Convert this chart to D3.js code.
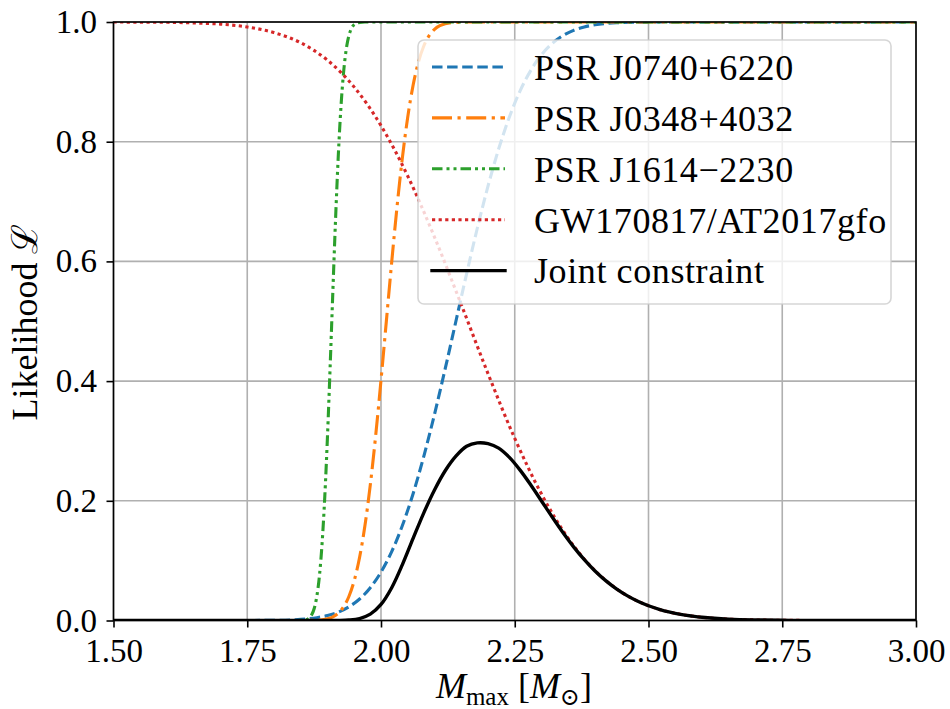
<!DOCTYPE html>
<html>
<head>
<meta charset="utf-8">
<script src="https://cdn.jsdelivr.net/npm/d3@7/dist/d3.min.js"></script>
<style>
  html, body { margin: 0; padding: 0; background: #fff; }
  svg { display: block; }
  text { fill: #000; }
</style>
</head>
<body>
<svg id="chart" width="950" height="709"></svg>
<script>
// ---------------- data ----------------
const xTicks = [1.50, 1.75, 2.00, 2.25, 2.50, 2.75, 3.00];
const xTickLabels = ["1.50", "1.75", "2.00", "2.25", "2.50", "2.75", "3.00"];
const yTicks = [0.0, 0.2, 0.4, 0.6, 0.8, 1.0];
const yTickLabels = ["0.0", "0.2", "0.4", "0.6", "0.8", "1.0"];

const seriesNames = ["PSR J0740+6220", "PSR J0348+4032", "PSR J1614\u22122230", "GW170817/AT2017gfo", "Joint constraint"];

// PSR J0740+6220
const j0740X = [1.50, 1.76, 1.80, 1.84, 1.86, 1.88, 1.90, 1.92, 1.94, 1.96, 1.98, 2.00, 2.02, 2.04, 2.06, 2.08, 2.10, 2.12, 2.14, 2.16, 2.18, 2.20, 2.22, 2.24, 2.26, 2.28, 2.30, 2.32, 2.34, 2.36, 2.38, 2.40, 2.44, 2.48, 2.55, 3.00];
const j0740Y = [0, 0.0001, 0.0003, 0.0013, 0.0026, 0.0047, 0.0082, 0.0139, 0.0228, 0.0359, 0.0548, 0.0808, 0.1151, 0.1587, 0.2119, 0.2743, 0.3446, 0.4207, 0.5, 0.5793, 0.6554, 0.7257, 0.7881, 0.8413, 0.8849, 0.9192, 0.9452, 0.9641, 0.9772, 0.9861, 0.9918, 0.9953, 0.9987, 0.9997, 1, 1];

// PSR J0348+4032
const j0348X = [1.50, 1.85, 1.88, 1.89, 1.90, 1.91, 1.92, 1.93, 1.94, 1.95, 1.96, 1.97, 1.98, 1.99, 2.00, 2.01, 2.02, 2.03, 2.04, 2.05, 2.06, 2.07, 2.08, 2.09, 2.10, 2.11, 2.12, 2.14, 2.16, 2.20, 3.00];
const j0348Y = [0, 0, 0.0006, 0.0013, 0.0030, 0.0062, 0.0122, 0.0228, 0.0401, 0.0668, 0.1056, 0.1587, 0.2266, 0.3085, 0.4013, 0.5, 0.5987, 0.6915, 0.7734, 0.8413, 0.8944, 0.9332, 0.9599, 0.9772, 0.9878, 0.9938, 0.9970, 0.9994, 0.9999, 1, 1];

// PSR J1614-2230
const j1614X = [1.50, 1.84, 1.86, 1.865, 1.87, 1.875, 1.88, 1.885, 1.89, 1.895, 1.90, 1.905, 1.91, 1.915, 1.92, 1.925, 1.93, 1.935, 1.94, 1.945, 1.95, 1.96, 1.97, 2.00, 3.00];
const j1614Y = [0, 0, 0.0013, 0.0036, 0.0088, 0.0196, 0.0401, 0.0753, 0.1303, 0.2083, 0.3085, 0.4256, 0.5497, 0.6691, 0.7734, 0.8560, 0.9154, 0.9543, 0.9772, 0.9896, 0.9957, 0.9994, 1, 1, 1];

// GW170817/AT2017gfo
const gwX = [1.50, 1.55, 1.60, 1.65, 1.70, 1.75, 1.80, 1.85, 1.90, 1.95, 2.00, 2.05, 2.10, 2.15, 2.20, 2.25, 2.30, 2.35, 2.40, 2.45, 2.50, 2.55, 2.60, 2.65, 2.70, 2.75, 2.80, 2.90, 3.00];
const gwY = [0.9999, 0.9998, 0.9995, 0.9985, 0.9964, 0.9917, 0.9823, 0.9652, 0.9361, 0.8912, 0.8269, 0.7425, 0.6406, 0.5279, 0.4125, 0.3043, 0.2112, 0.1372, 0.0832, 0.0471, 0.0247, 0.0120, 0.0054, 0.0023, 0.0009, 0.0003, 0.0001, 0, 0];

// Joint constraint
const jointX = [1.50, 1.86, 1.90, 1.92, 1.94, 1.96, 1.98, 2.00, 2.02, 2.04, 2.06, 2.08, 2.10, 2.12, 2.14, 2.16, 2.18, 2.20, 2.22, 2.24, 2.26, 2.28, 2.30, 2.32, 2.34, 2.36, 2.38, 2.40, 2.42, 2.44, 2.46, 2.48, 2.50, 2.52, 2.54, 2.56, 2.58, 2.60, 2.65, 2.70, 2.75, 2.80, 2.90, 3.00];
const jointY = [0, 0, 0, 0.0001, 0.0008, 0.0033, 0.0106, 0.0268, 0.0548, 0.0934, 0.1371, 0.1799, 0.2181, 0.2502, 0.2745, 0.2910, 0.2968, 0.2955, 0.2880, 0.2725, 0.2512, 0.2264, 0.1997, 0.1728, 0.1470, 0.1231, 0.1017, 0.0828, 0.0666, 0.0529, 0.0416, 0.0322, 0.0247, 0.0187, 0.0140, 0.0103, 0.0076, 0.0054, 0.0023, 0.0009, 0.0003, 0.0001, 0, 0];

// ---------------- drawing ----------------
const FONT = "'Liberation Serif', 'DejaVu Serif', serif";
const svg = d3.select("#chart");
const pLeft = 113.5, pRight = 916, pTop = 22, pBottom = 620.5;

const x = d3.scaleLinear().domain([1.5, 3.0]).range([pLeft, pRight]);
const y = d3.scaleLinear().domain([0, 1]).range([pBottom, pTop]);

const styles = [
  { color: "#1f77b4", dash: "10.5,4.6", width: 3.1, cap: "butt", curve: d3.curveMonotoneX },
  { color: "#ff7f0e", dash: "20,5.5,3.2,5.5", width: 3.1, cap: "butt", curve: d3.curveMonotoneX },
  { color: "#2ca02c", dash: "10.5,4,3,4,3,4", width: 3.1, cap: "butt", curve: d3.curveMonotoneX },
  { color: "#d62728", dash: "3.2,3.4", width: 3.1, cap: "butt", curve: d3.curveMonotoneX },
  { color: "#000000", dash: null, width: 3.4, cap: "square", curve: d3.curveCatmullRom.alpha(0.5) }
];

const seriesData = [
  d3.zip(j0740X, j0740Y),
  d3.zip(j0348X, j0348Y),
  d3.zip(j1614X, j1614Y),
  d3.zip(gwX, gwY),
  d3.zip(jointX, jointY)
];

// clip
svg.append("defs").append("clipPath").attr("id", "plotclip")
  .append("rect").attr("x", pLeft).attr("y", pTop)
  .attr("width", pRight - pLeft).attr("height", pBottom - pTop);

// grid
const grid = svg.append("g");
grid.selectAll("line.gx").data(xTicks).join("line").attr("class", "gx")
  .attr("x1", d => x(d)).attr("x2", d => x(d))
  .attr("y1", pTop).attr("y2", pBottom)
  .attr("stroke", "#b0b0b0").attr("stroke-width", 1.6);
grid.selectAll("line.gy").data(yTicks).join("line").attr("class", "gy")
  .attr("y1", d => y(d)).attr("y2", d => y(d))
  .attr("x1", pLeft).attr("x2", pRight)
  .attr("stroke", "#b0b0b0").attr("stroke-width", 1.6);

// curves
const curves = svg.append("g").attr("clip-path", "url(#plotclip)");
seriesData.forEach((data, i) => {
  const s = styles[i];
  const line = d3.line().x(d => x(d[0])).y(d => y(Math.max(0, d[1]))).curve(s.curve);
  curves.append("path")
    .datum(data)
    .attr("d", line)
    .attr("fill", "none")
    .attr("stroke", s.color)
    .attr("stroke-width", s.width)
    .attr("stroke-dasharray", s.dash)
    .attr("stroke-linejoin", "round");
});

// axes
const xAxis = d3.axisBottom(x).tickValues(xTicks).tickFormat((d, i) => xTickLabels[i])
  .tickSize(7).tickPadding(11).tickSizeOuter(0);
const yAxis = d3.axisLeft(y).tickValues(yTicks).tickFormat((d, i) => yTickLabels[i])
  .tickSize(7).tickPadding(9.5).tickSizeOuter(0);

const gx = svg.append("g").attr("transform", `translate(0,${pBottom})`).call(xAxis);
const gy = svg.append("g").attr("transform", `translate(${pLeft},0)`).call(yAxis);
[gx, gy].forEach(g => {
  g.attr("font-family", FONT);
  g.select(".domain").remove();
  g.selectAll(".tick line").attr("stroke", "#000").attr("stroke-width", 1.6);
  g.selectAll(".tick text").attr("font-size", 33)
    .style("font-family", FONT).attr("fill", "#000");
});

// spines
svg.append("rect").attr("x", pLeft).attr("y", pTop)
  .attr("width", pRight - pLeft).attr("height", pBottom - pTop)
  .attr("fill", "none").attr("stroke", "#000").attr("stroke-width", 1.6);

// axis labels
const xl = svg.append("text").attr("x", 514).attr("y", 698)
  .attr("text-anchor", "middle").attr("font-size", 36).style("font-family", FONT);
xl.append("tspan").attr("font-style", "italic").text("M");
xl.append("tspan").attr("font-size", 25).attr("dy", 7).text("max");
xl.append("tspan").attr("dy", -7).text("\u00a0[");
xl.append("tspan").attr("font-style", "italic").text("M");
xl.append("tspan").attr("font-size", 24).attr("dy", 7).text("\u2299");
xl.append("tspan").attr("dy", -7).text("]");

const yl = svg.append("text")
  .attr("transform", "translate(37,322) rotate(-90)")
  .attr("text-anchor", "middle").attr("font-size", 36).style("font-family", FONT);
yl.append("tspan").text("Likelihood ");
yl.append("tspan").text("\u2112");

// legend
const lg = svg.append("g");
lg.append("rect").attr("x", 418).attr("y", 40).attr("width", 473).attr("height", 264)
  .attr("rx", 6).attr("ry", 6)
  .attr("fill", "#fff").attr("fill-opacity", 0.8)
  .attr("stroke", "#cccccc").attr("stroke-opacity", 0.8).attr("stroke-width", 1.6);
seriesNames.forEach((name, i) => {
  const s = styles[i];
  const yy = 67 + i * 50.9;
  lg.append("line").attr("x1", 432).attr("x2", 505).attr("y1", yy).attr("y2", yy)
    .attr("stroke", s.color).attr("stroke-width", s.width)
    .attr("stroke-dasharray", s.dash).attr("stroke-linecap", s.cap);
  lg.append("text").attr("x", 534).attr("y", yy + 12.8)
    .attr("font-size", 36).style("font-family", FONT)
    .style("letter-spacing", "0.6px").text(name);
});
</script>
</body>
</html>
